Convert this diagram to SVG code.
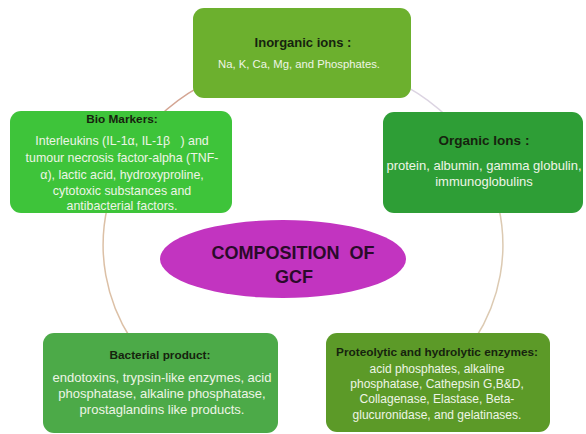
<svg xmlns="http://www.w3.org/2000/svg" width="586" height="434" viewBox="0 0 586 434">
<style>
.box{stroke:none}
.t{font-family:"Liberation Sans",Arial,sans-serif;font-weight:bold;font-size:11.8px;fill:#16230e;text-anchor:middle}
.b{font-family:"Liberation Sans",Arial,sans-serif;font-size:11px;fill:#eef5e6;text-anchor:middle}
.c{font-family:"Liberation Sans",Arial,sans-serif;font-weight:bold;font-size:18px;fill:#2a0a2a;text-anchor:middle;white-space:pre}
.arc{fill:none;stroke-width:1.5}
</style>
<rect width="586" height="434" fill="#ffffff"/>
<g id="connectors">
<path class="arc" stroke="#d4a593" d="M200,86.4 A200,185 0 0,0 157.5,118"/>
<path class="arc" stroke="#dcd4e2" d="M406,86.4 A200,185 0 0,1 448.5,118"/>
<path class="arc" stroke="#dcc0a6" d="M107.6,206 A200,185 0 0,0 131.5,340"/>
<path class="arc" stroke="#dccab2" d="M498.4,206 A200,185 0 0,1 474.5,340"/>
</g>
<g id="inorganic">
<rect class="box" x="193" y="8" width="218" height="90" rx="11" fill="#6cb02e"/>
<text class="t" x="303" y="47" style="font-size:13px">Inorganic ions :</text>
<text class="b" x="299" y="68" style="font-size:11.3px">Na, K, Ca, Mg, and Phosphates.</text>
</g>
<g id="biomarkers">
<rect class="box" x="10" y="111" width="222" height="102" rx="11" fill="#3ec43a"/>
<text class="t" x="122" y="123">Bio Markers:</text>
<text class="b" x="122" y="145" style="font-size:12.4px;white-space:pre" xml:space="preserve">Interleukins (IL-1α, IL-1β   ) and</text>
<text class="b" x="122" y="162" style="font-size:12.4px">tumour necrosis factor-alpha (TNF-</text>
<text class="b" x="122" y="179" style="font-size:12.4px">α), lactic acid, hydroxyproline,</text>
<text class="b" x="122" y="195" style="font-size:12.4px">cytotoxic substances and</text>
<text class="b" x="122" y="210" style="font-size:12.4px">antibacterial factors.</text>
</g>
<g id="organic">
<rect class="box" x="383" y="112" width="200" height="101" rx="11" fill="#2e9e36"/>
<text class="t" x="484" y="145" style="font-size:13.5px">Organic Ions :</text>
<text class="b" x="484" y="170" style="font-size:13px">protein, albumin, gamma globulin,</text>
<text class="b" x="484" y="186" style="font-size:13px">immunoglobulins</text>
</g>
<g id="center">
<ellipse cx="283" cy="259" rx="123" ry="39" fill="#c234c0"/>
<text class="c" x="293" y="259" xml:space="preserve">COMPOSITION  OF</text>
<text class="c" x="294" y="283">GCF</text>
</g>
<g id="bacterial">
<rect class="box" x="43" y="333" width="235" height="100" rx="11" fill="#4caa48"/>
<text class="t" x="160" y="359">Bacterial product:</text>
<text class="b" x="162" y="382" style="font-size:13px">endotoxins, trypsin-like enzymes, acid</text>
<text class="b" x="162" y="398" style="font-size:13px">phosphatase, alkaline phosphatase,</text>
<text class="b" x="162" y="414" style="font-size:13px">prostaglandins like products.</text>
</g>
<g id="proteolytic">
<rect class="box" x="326" y="333" width="224" height="99" rx="11" fill="#5c9a28"/>
<text class="t" x="437" y="356">Proteolytic and hydrolytic enzymes:</text>
<text class="b" x="437" y="373" style="font-size:12px">acid phosphates, alkaline</text>
<text class="b" x="437" y="388" style="font-size:12px">phosphatase, Cathepsin G,B&amp;D,</text>
<text class="b" x="437" y="403" style="font-size:12px">Collagenase, Elastase, Beta-</text>
<text class="b" x="437" y="419" style="font-size:12px">glucuronidase, and gelatinases.</text>
</g>
</svg>
